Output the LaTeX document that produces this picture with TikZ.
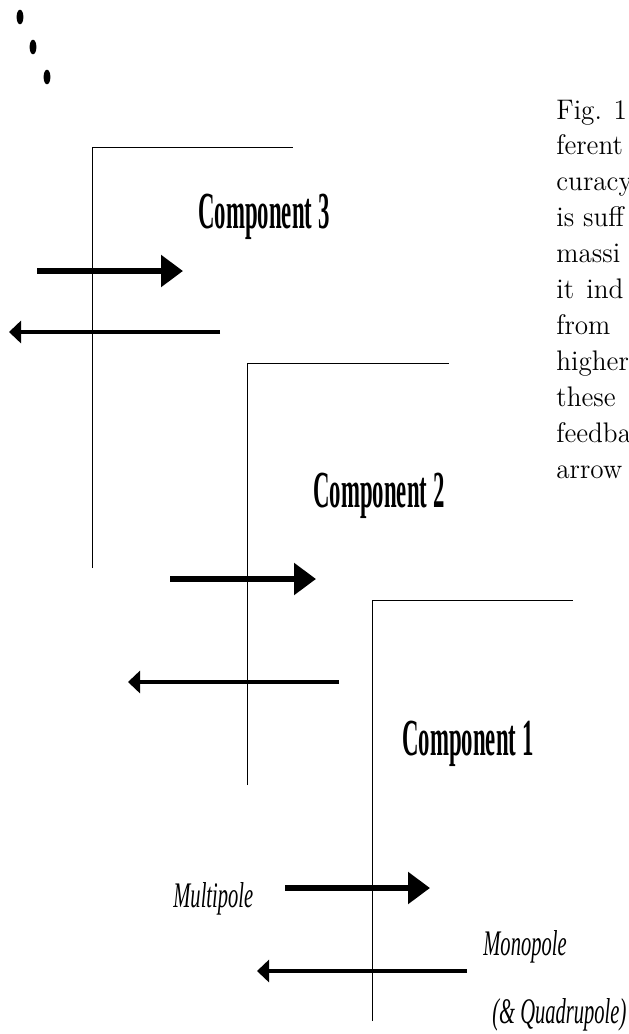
\documentclass[tikz,border=0pt]{standalone}
\usepackage{fontspec}
\newfontfamily\compfont{Liberation Serif}
\usetikzlibrary{arrows.meta}
\newcommand\comptitle[1]{\resizebox{65.5pt}{\height}{\fontsize{26}{28}\selectfont #1}}
\newcommand\poletitle[1]{\scalebox{0.57}[1]{\fontsize{18}{20}\selectfont #1}}
\newcommand\paraline[1]{\scalebox{1}[1.04]{\fontsize{13.6}{16}\selectfont #1}}
\tikzset{
  frameline/.style={line width=0.5pt, black},
  bigarrow/.style={line width=3pt, -{Triangle[length=11pt,width=15.5pt]}},
  smallarrow/.style={line width=1.6pt, -{Triangle[length=6pt,width=11pt]}},
  comptext/.style={anchor=base west, inner sep=0pt, font=\compfont\bfseries},
  poletext/.style={anchor=base west, inner sep=0pt, font=\compfont\itshape},
  paratext/.style={anchor=base west, inner sep=0pt},
  dotmark/.style={fill=black}
}
\begin{document}
\begin{tikzpicture}[x=0.5pt,y=-0.5pt]
\useasboundingbox (0,0) rectangle (628,1034);
\begin{scope}
\clip (0,0) rectangle (628,1034);
% dots
\fill[dotmark] (20,17) ellipse [x radius=3.4, y radius=7.3];
\fill[dotmark] (33,47) ellipse [x radius=3.4, y radius=7.3];
\fill[dotmark] (47,77) ellipse [x radius=3.4, y radius=7.3];
% frames
\coordinate (f3b) at (92,568); \coordinate (f3c) at (92,147); \coordinate (f3e) at (293,147);
\coordinate (f2b) at (247,785); \coordinate (f2c) at (247,363); \coordinate (f2e) at (449,363);
\coordinate (f1b) at (372,1021); \coordinate (f1c) at (372,600); \coordinate (f1e) at (573,600);
\draw[frameline] (f3b) -- (f3c) -- (f3e);
\draw[frameline] (f2b) -- (f2c) -- (f2e);
\draw[frameline] (f1b) -- (f1c) -- (f1e);
% component titles
\node[comptext] (c3) at (198,228) {\comptitle{Component 3}};
\node[comptext] (c2) at (313,507) {\comptitle{Component 2}};
\node[comptext] (c1) at (402,755) {\comptitle{Component 1}};
% arrows
\coordinate (u3s) at (37,271);  \coordinate (u3e) at (183,271);
\coordinate (d3s) at (220,332); \coordinate (d3e) at (9,332);
\coordinate (u2s) at (170,579); \coordinate (u2e) at (316,579);
\coordinate (d2s) at (339,682); \coordinate (d2e) at (128,682);
\coordinate (u1s) at (285,888); \coordinate (u1e) at (430,888);
\coordinate (d1s) at (467,971); \coordinate (d1e) at (257,971);
\draw[bigarrow] (u3s) -- (u3e);
\draw[smallarrow] (d3s) -- (d3e);
\draw[bigarrow] (u2s) -- (u2e);
\draw[smallarrow] (d2s) -- (d2e);
\draw[bigarrow] (u1s) -- (u1e);
\draw[smallarrow] (d1s) -- (d1e);
% labels
\node[poletext] (mp) at (173,907) {\poletitle{Multipole}};
\node[poletext] (mo) at (483,955) {\poletitle{Monopole}};
\node[poletext] (qp) at (492,1023) {\poletitle{(\& Quadrupole)}};
% paragraph (cut at the right edge, as in the reference)
\node[paratext] (p1) at (556,119) {\paraline{Fig. 1}};
\node[paratext] (p2) at (556,154.9) {\paraline{ferent}};
\node[paratext] (p3) at (556,190.8) {\paraline{curacy}};
\node[paratext] (p4) at (556,226.7) {\paraline{is suff}};
\node[paratext] (p5) at (556,262.6) {\paraline{massi}};
\node[paratext] (p6) at (556,298.5) {\paraline{it\hspace{0.45em}ind}};
\node[paratext] (p7) at (556,334.4) {\paraline{from}};
\node[paratext] (p8) at (556,370.3) {\paraline{higher}};
\node[paratext] (p9) at (556,406.2) {\paraline{these}};
\node[paratext] (p10) at (556,442.1) {\paraline{feedba}};
\node[paratext] (p11) at (556,478) {\paraline{arrow}};
\end{scope}
\end{tikzpicture}
\end{document}
